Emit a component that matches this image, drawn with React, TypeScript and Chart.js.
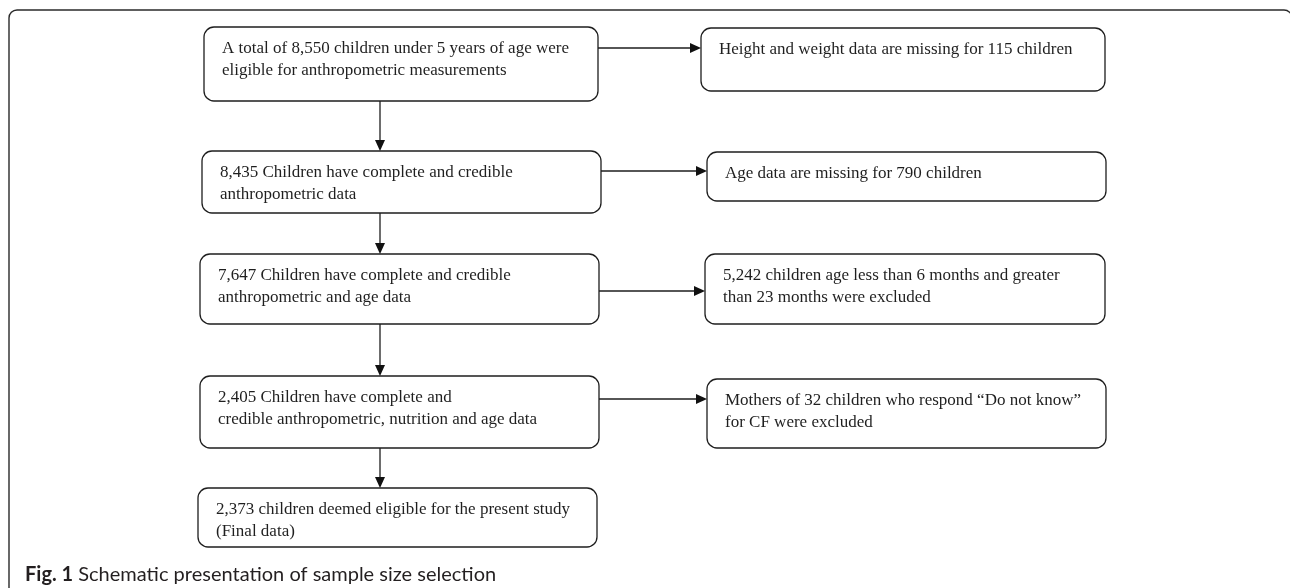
import React, { useEffect, useRef } from "react";
import { Chart, registerables } from "chart.js";

Chart.register(...registerables);

// ---- content (data) ----
const mainSteps: string[][] = [
  ["A total of 8,550 children under 5 years of age were", "eligible for anthropometric measurements"],
  ["8,435 Children have complete and credible", "anthropometric data"],
  ["7,647 Children have complete and credible", "anthropometric and age data"],
  ["2,405 Children have complete and", "credible anthropometric, nutrition and age data"],
  ["2,373 children deemed eligible for the present study", "(Final data)"],
];
const exclusionSteps: string[][] = [
  ["Height and weight data are missing for 115 children"],
  ["Age data are missing for 790 children"],
  ["5,242 children age less than 6 months and greater", "than 23 months were excluded"],
  ["Mothers of 32 children who respond \u201CDo not know\u201D", "for CF were excluded"],
];
const captionBold = "Fig. 1";
const captionText = " Schematic presentation of sample size selection";

// ---- layout (scale units) ----
const mainBoxes: number[][] = [
  [204, 27, 598, 101],
  [202, 151, 601, 213],
  [200, 254, 599, 324],
  [200, 376, 599, 448],
  [198, 488, 597, 547],
];
const exclusionBoxes: number[][] = [
  [701, 28, 1105, 91],
  [707, 152, 1106, 201],
  [705, 254, 1105, 324],
  [707, 379, 1106, 448],
];
const sideArrowY = [48, 171, 291, 399];
const downArrowX = [380, 380, 380, 380, 377];

const W = 1290;
const H = 588;

const flowPlugin = {
  id: "flow",
  beforeDraw(chart: any) {
    const { ctx } = chart;
    ctx.save();
    ctx.fillStyle = "#ffffff";
    ctx.fillRect(0, 0, chart.width, chart.height);
    ctx.restore();
  },
  afterDraw(chart: any) {
    const { ctx } = chart;
    const xs = chart.scales.x;
    const ys = chart.scales.y;
    const px = (v: number) => xs.getPixelForValue(v);
    const py = (v: number) => ys.getPixelForValue(v);
    const stroke = "#1e1e1e";

    ctx.save();
    // outer frame
    ctx.strokeStyle = "#2a2a2a";
    ctx.lineWidth = 1.4;
    ctx.beginPath();
    ctx.moveTo(px(9), py(588));
    ctx.lineTo(px(9), py(18));
    ctx.arcTo(px(9), py(10), px(17), py(10), 8);
    ctx.lineTo(px(1284), py(10));
    ctx.arcTo(px(1292), py(10), px(1292), py(18), 8);
    ctx.lineTo(px(1292), py(588));
    ctx.stroke();

    const roundBox = (b: number[]) => {
      const x0 = px(b[0]), y0 = py(b[1]), x1 = px(b[2]), y1 = py(b[3]);
      const r = 10;
      ctx.beginPath();
      ctx.moveTo(x0 + r, y0);
      ctx.lineTo(x1 - r, y0);
      ctx.arcTo(x1, y0, x1, y0 + r, r);
      ctx.lineTo(x1, y1 - r);
      ctx.arcTo(x1, y1, x1 - r, y1, r);
      ctx.lineTo(x0 + r, y1);
      ctx.arcTo(x0, y1, x0, y1 - r, r);
      ctx.lineTo(x0, y0 + r);
      ctx.arcTo(x0, y0, x0 + r, y0, r);
      ctx.closePath();
      ctx.stroke();
    };
    const drawText = (b: number[], lines: string[]) => {
      ctx.fillStyle = "#1f1f1f";
      ctx.font = '17px "Liberation Serif", "Times New Roman", serif';
      ctx.textBaseline = "middle";
      ctx.textAlign = "left";
      lines.forEach((l, i) => {
        ctx.fillText(l, px(b[0] + 18), py(b[1] + 22 + i * 22));
      });
    };
    const arrow = (x0: number, y0: number, x1: number, y1: number) => {
      const ax0 = px(x0), ay0 = py(y0), ax1 = px(x1), ay1 = py(y1);
      const ang = Math.atan2(ay1 - ay0, ax1 - ax0);
      const len = 11, hw = 5;
      const bx = ax1 - len * Math.cos(ang), by = ay1 - len * Math.sin(ang);
      ctx.strokeStyle = stroke;
      ctx.lineWidth = 1.3;
      ctx.beginPath();
      ctx.moveTo(ax0, ay0);
      ctx.lineTo(bx, by);
      ctx.stroke();
      ctx.fillStyle = "#111";
      ctx.beginPath();
      ctx.moveTo(ax1, ay1);
      ctx.lineTo(bx + hw * Math.sin(ang), by - hw * Math.cos(ang));
      ctx.lineTo(bx - hw * Math.sin(ang), by + hw * Math.cos(ang));
      ctx.closePath();
      ctx.fill();
    };

    mainBoxes.forEach((b, i) => {
      ctx.strokeStyle = stroke;
      ctx.lineWidth = 1.3;
      roundBox(b);
      drawText(b, mainSteps[i]);
    });
    exclusionBoxes.forEach((b, i) => {
      ctx.strokeStyle = stroke;
      ctx.lineWidth = 1.3;
      roundBox(b);
      drawText(b, exclusionSteps[i]);
    });
    // side arrows
    sideArrowY.forEach((y, i) => {
      arrow(mainBoxes[i][2], y, exclusionBoxes[i][0], y);
    });
    // down arrows
    for (let i = 0; i < mainBoxes.length - 1; i++) {
      const x = downArrowX[i];
      arrow(x, mainBoxes[i][3], x, mainBoxes[i + 1][1]);
    }

    // caption
    ctx.fillStyle = "#231f20";
    ctx.textBaseline = "alphabetic";
    ctx.font = 'bold 20px Lato, "Open Sans", sans-serif';
    const cx = px(25), cy = py(581);
    ctx.fillText(captionBold, cx, cy);
    const bw = ctx.measureText(captionBold).width;
    ctx.font = '20px Lato, "Open Sans", sans-serif';
    ctx.fillText(captionText, cx + bw, cy);
    ctx.restore();
  },
};

export default function App() {
  const ref = useRef<HTMLCanvasElement | null>(null);
  useEffect(() => {
    if (!ref.current) return;
    const nodePoints = [
      ...mainBoxes.map((b) => ({ x: (b[0] + b[2]) / 2, y: (b[1] + b[3]) / 2 })),
      ...exclusionBoxes.map((b) => ({ x: (b[0] + b[2]) / 2, y: (b[1] + b[3]) / 2 })),
    ];
    const chart = new Chart(ref.current, {
      type: "scatter",
      data: {
        datasets: [
          {
            data: nodePoints,
            pointRadius: 0,
            showLine: false,
          },
        ],
      },
      options: {
        animation: false,
        responsive: false,
        devicePixelRatio: window.devicePixelRatio || 1,
        layout: { padding: 0 },
        plugins: { legend: { display: false }, tooltip: { enabled: false } },
        events: [],
        scales: {
          x: { type: "linear", min: 0, max: W, display: false },
          y: { type: "linear", min: 0, max: H, reverse: true, display: false },
        },
      },
      plugins: [flowPlugin],
    });
    return () => chart.destroy();
  }, []);
  return (
    <div style={{ position: "absolute", left: 0, top: 0, width: W, height: H, background: "#fff" }}>
      <canvas ref={ref} width={W} height={H} style={{ width: W, height: H, display: "block" }} />
    </div>
  );
}
